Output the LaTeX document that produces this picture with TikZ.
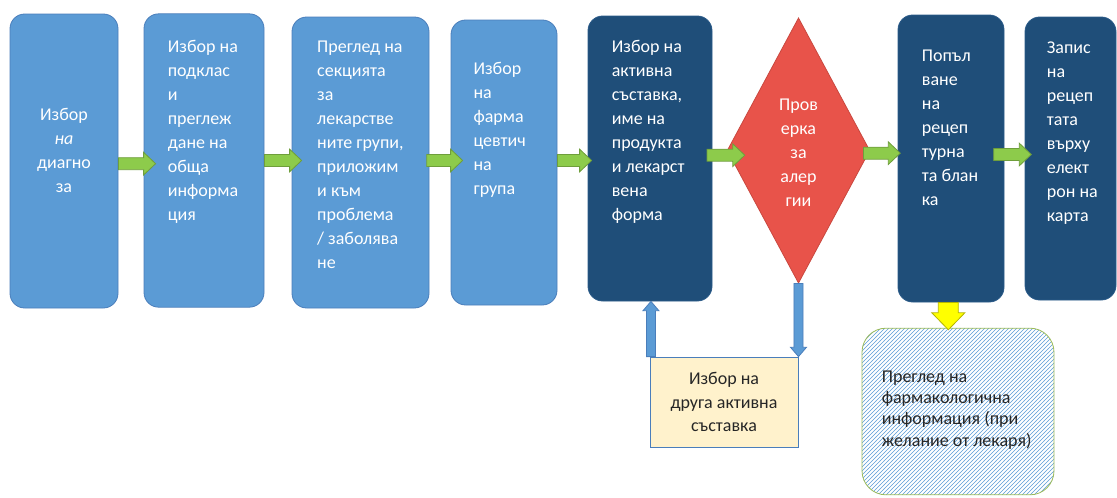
\documentclass[tikz,border=0pt]{standalone}
\usepackage{fontspec}
\setmainfont{Carlito}
\usepackage{tikz}
\usetikzlibrary{calc,positioning,shapes.geometric,patterns}
\definecolor{lightbox}{HTML}{5B9BD5}
\definecolor{lightedge}{HTML}{4A7EBB}
\definecolor{darkbox}{HTML}{1F4E79}
\definecolor{darkedge}{HTML}{2A5A88}
\definecolor{checkred}{HTML}{E8534A}
\definecolor{checkedge}{HTML}{C9483F}
\definecolor{stepgreen}{HTML}{8DCB4B}
\definecolor{stepgreenedge}{HTML}{6F9E3C}
\definecolor{hintyellow}{HTML}{FFFF00}
\definecolor{hintedge}{HTML}{B5B500}
\definecolor{altfill}{HTML}{FFF2CC}
\definecolor{noteedge}{HTML}{9BBB59}
\definecolor{ink}{HTML}{262626}
\tikzset{
	box/.style={draw=lightedge,fill=lightbox,line width=.6pt,rounded corners=11pt,inner sep=0pt},
	dark box/.style={box,draw=darkedge,fill=darkbox},
	boxtext/.style={text=white,align=left,inner sep=0pt,font=\fontsize{13.5}{18}\selectfont},
	% block arrow between two points: half shaft, half head, head length
	fat arrow/.style n args={3}{to path={
		($(\tikztostart)!#1!90:(\tikztotarget)$)
		-- ($(\tikztotarget)!#3!(\tikztostart)!#1!-90:(\tikztostart)$)
		-- ($(\tikztotarget)!#3!(\tikztostart)!#2!-90:(\tikztostart)$)
		-- (\tikztotarget)
		-- ($(\tikztotarget)!#3!(\tikztostart)!#2!90:(\tikztostart)$)
		-- ($(\tikztotarget)!#3!(\tikztostart)!#1!90:(\tikztostart)$)
		-- ($(\tikztostart)!#1!-90:(\tikztotarget)$) -- cycle}},
	go/.style={fat arrow={4.5pt}{8.5pt}{9pt},draw=stepgreenedge,fill=stepgreen,line width=.6pt},
	back/.style={fat arrow={3.4pt}{6pt}{7pt},draw=lightedge,fill=lightbox,line width=.6pt},
	hint/.style={fat arrow={7.5pt}{12.4pt}{12.75pt},draw=hintedge,fill=hintyellow,line width=.6pt}
}

\begin{document}
\begin{tikzpicture}[x=.75pt,y=-.75pt]
	\useasboundingbox (0,0) rectangle (1117,497);
	% main row
	\node[box,minimum width=81pt,minimum height=220.5pt] (diag) at (64,161) {};
	\node[box,minimum width=90pt,minimum height=220pt] (subclass) at (204,160.5) {};
	\node[box,minimum width=102.75pt,minimum height=218.25pt] (groups) at (360.5,162.5) {};
	\node[box,minimum width=79.5pt,minimum height=213.75pt] (pharmgroup) at (504,162.5) {};
	\node[dark box,minimum width=93pt,minimum height=213.75pt] (substance) at (650,158.5) {};
	\node[diamond,draw=checkedge,fill=checkred,line width=.6pt,inner sep=0pt,
		minimum width=107pt,minimum height=199pt] (allergy) at (798.5,150.5) {};
	\node[dark box,minimum width=79.5pt,minimum height=215.25pt] (blank) at (951,158.5) {};
	\node[dark box,minimum width=68.25pt,minimum height=212.25pt] (ecard) at (1070.5,158.5) {};
	% side branches
	\node[draw=lightedge,fill=altfill,line width=.6pt,minimum width=111pt,minimum height=67.5pt,
		align=center,text=ink,font=\fontsize{13.5}{17.6}\selectfont] (other) at (724,402)
		{Избор на\\друга активна\\съставка};
	\node[draw=noteedge,line width=.6pt,pattern=north east lines,pattern color=lightbox,
		rounded corners=18pt,minimum width=144pt,minimum height=125pt] (pharma) at (958,411.5) {};

	\node[boxtext,align=center] at ([yshift=8pt]diag.center) {Избор\\\textit{на}\\диагно\\за};
	\node[boxtext,below right=20pt and 18pt of subclass.north west]
		{Избор на\\подклас\\и\\преглеж\\дане на\\обща\\информа\\ция};
	\node[boxtext,below right=18pt and 19pt of groups.north west]
		{Преглед на\\секцията\\за\\лекарстве\\ните групи,\\приложим\\и към\\проблема\\/ заболява\\не};
	\node[boxtext,below right=31.5pt and 17pt of pharmgroup.north west]
		{Избор\\на\\фарма\\цевтич\\на\\група};
	\node[boxtext,below right=18pt and 18pt of substance.north west]
		{Избор на\\активна\\съставка,\\име на\\продукта\\и лекарст\\вена\\форма};
	\node[boxtext,align=center] at ([yshift=-2pt]allergy.center) {Пров\\ерка\\за\\алер\\гии};
	\node[boxtext,below right=26pt and 18pt of blank.north west]
		{Попъл\\ване\\на\\рецеп\\турна\\та блан\\ка};
	\node[boxtext,below right=18.5pt and 16.5pt of ecard.north west]
		{Запис\\на\\рецеп\\тата\\върху\\елект\\рон на\\карта};
	\node[text=ink,align=left,inner sep=0pt,font=\fontsize{13.5}{16}\selectfont,
		below right=32pt and 15pt of pharma.north west]
		{Преглед на\\фармакологична\\информация (при\\желание от лекаря)};

	% arrows
	\draw[go] ([yshift=-2pt]diag.east) to ([xshift=9pt,yshift=-2pt]diag.east -| subclass.west);
	\draw[go] (subclass.east) to ([xshift=7.5pt]subclass.east -| groups.west);
	\draw[go] ([xshift=-2pt,yshift=1.5pt]groups.east) to ([xshift=9pt,yshift=1.5pt]groups.east -| pharmgroup.west);
	\draw[go] ([yshift=1.5pt]pharmgroup.east) to ([xshift=3pt,yshift=1.5pt]pharmgroup.east -| substance.west);
	\draw[go] ([xshift=-4pt,yshift=2.5pt]substance.east) to ([xshift=13.5pt,yshift=2.5pt]substance.east -| allergy.west);
	\draw[go] ([xshift=-5pt,yshift=-2pt]allergy.east) to ([xshift=2pt,yshift=-2pt]allergy.east -| blank.west);
	\draw[go] ([xshift=-8pt,yshift=3pt]blank.east) to ([xshift=5pt,yshift=3pt]blank.east -| ecard.west);
	\draw[back] ([xshift=1pt]other.north west) to ([xshift=1pt]other.north west |- substance.south);
	\draw[back] (allergy.south) to (allergy.south |- other.north);
	\draw[hint] ([xshift=-2pt]blank.south) to ([xshift=-2pt,yshift=-1.5pt]blank.south |- pharma.north);
\end{tikzpicture}
\end{document}
